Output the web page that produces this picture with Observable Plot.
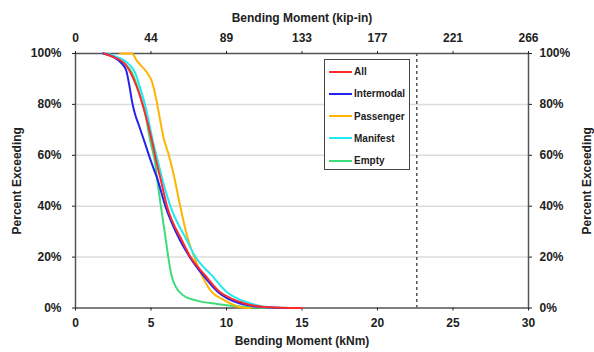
<!DOCTYPE html>
<html><head><meta charset="utf-8">
<script src="https://cdn.jsdelivr.net/npm/d3@7"></script>
<script src="https://cdn.jsdelivr.net/npm/@observablehq/plot@0.6"></script>
<style>
body{margin:0;background:#fff;}
#wrap{position:relative;width:594px;height:352px;font-family:"Liberation Sans",Arial,sans-serif;}
#legend{position:absolute;left:324px;top:59px;width:84px;height:109px;border:1.5px solid #444;background:#fff;}
.item{position:absolute;left:0;height:12px;display:flex;align-items:center;font-size:10px;font-weight:bold;color:#222;}
.item span.sw{display:inline-block;width:23px;height:2px;margin-left:4px;margin-right:2px;}
</style></head><body><div id="wrap"><div id="legend"></div></div>
<script>
// Data (kNm vs percent exceeding)
const seriesNames = ["All", "Intermodal", "Passenger", "Manifest", "Empty"];
const seriesColors = ["#ff2a2a", "#2323f0", "#ffb400", "#22e8f2", "#3ddc7a"];
const drawOrder = ["Empty", "Passenger", "Manifest", "Intermodal", "All"];

const allX = [1.9, 2.3, 3.29, 3.84, 4.2, 4.62, 5.06, 5.39, 5.61, 6.05, 7.05, 7.6, 8.59, 9.58, 10.36, 11.2, 12.2, 13.6, 15.0];
const allY = [100, 99.1, 95.8, 90, 84.5, 76.2, 65.7, 56.6, 51.3, 40.2, 26.5, 20.2, 12.8, 6.2, 3.6, 1.8, 0.6, 0.1, 0];

const intermodalX = [1.83, 2.52, 3.07, 3.35, 3.55, 3.75, 3.95, 4.17, 4.62, 5.06, 5.39, 5.94, 6.93, 7.55, 8.46, 9.45, 10.11, 10.9, 12.0, 12.9, 14.2];
const intermodalY = [100, 98.6, 96, 93.5, 88, 81, 76, 72.3, 64.4, 56.6, 51.3, 40.2, 26.5, 20.2, 12.8, 6.2, 3.6, 1.8, 0.6, 0.2, 0];

const passengerX = [2.96, 3.74, 4.07, 4.73, 5.06, 5.39, 5.61, 5.83, 6.16, 6.49, 6.93, 7.38, 7.85, 8.37, 9.03, 9.70, 10.25, 10.7, 11.2, 11.6];
const passengerY = [100, 100, 97.1, 92.5, 89, 80.8, 73.6, 67, 60.5, 52.7, 40.2, 28.5, 20.2, 12.8, 6.2, 3.6, 1.8, 0.6, 0.1, 0];

const manifestX = [2.08, 2.52, 3.40, 3.95, 4.28, 4.6, 5.17, 5.5, 5.72, 6.27, 7.38, 7.93, 9.03, 10.03, 10.77, 11.6, 12.4, 13.6, 15.0];
const manifestY = [100, 99.1, 96.5, 92.5, 86.5, 80, 64.4, 56.6, 51.3, 40.2, 26.5, 20.2, 12.8, 6.2, 3.6, 1.8, 0.6, 0.1, 0];

const emptyX = [1.85, 2.96, 3.74, 4.07, 4.62, 4.95, 5.28, 5.42, 5.65, 5.94, 6.14, 6.36, 6.60, 7.15, 8.04, 9.36, 10.9, 12.2, 13.6];
const emptyY = [100, 97.1, 92.5, 87.5, 76.2, 65.7, 56.6, 50, 40.2, 28.5, 20.2, 12.8, 8.8, 4.9, 2.9, 1.6, 0.6, 0.2, 0];

const xTicks = [0, 5, 10, 15, 20, 25, 30];
const yTicks = [0, 20, 40, 60, 80, 100];
const gridTicks = [20, 40, 60, 80];
const limitKNm = [22.6];
const kipInPerKNm = 8.8507;

const seriesXY = {
  All: [allX, allY], Intermodal: [intermodalX, intermodalY], Passenger: [passengerX, passengerY],
  Manifest: [manifestX, manifestY], Empty: [emptyX, emptyY]
};
const rows = [];
for (const name of drawOrder) {
  const [xs, ys] = seriesXY[name];
  xs.forEach((x, i) => rows.push({series: name, x, y: ys[i]}));
}

const chart = Plot.plot({
  width: 594, height: 352,
  marginLeft: 75, marginRight: 66, marginTop: 53, marginBottom: 44.5,
  style: {fontFamily: '"Liberation Sans", Arial, sans-serif', fontSize: "12px", fontWeight: "bold", color: "#222", background: "#fff"},
  x: {domain: [0, 30]},
  y: {domain: [0, 100]},
  color: {domain: seriesNames, range: seriesColors},
  marks: [
    Plot.gridY(gridTicks, {stroke: "#dcdcdc", strokeOpacity: 1, strokeWidth: 1.5}),
    Plot.frame({stroke: "#555", strokeWidth: 1.5}),
    Plot.axisY(yTicks, {anchor: "left", tickFormat: d => d + "%", tickSize: 3, tickPadding: 11, label: "Percent Exceeding", labelAnchor: "center", labelArrow: "none", labelOffset: 63}),
    Plot.axisY(yTicks, {anchor: "right", tickFormat: d => d + "%", tickSize: 3, tickPadding: 8, label: "Percent Exceeding", labelAnchor: "center", labelArrow: "none", labelOffset: 62}),
    Plot.axisX(xTicks, {anchor: "bottom", tickSize: 3, tickPadding: 7, label: "Bending Moment (kNm)", labelAnchor: "center", labelArrow: "none", labelOffset: 37}),
    Plot.axisX(xTicks, {anchor: "top", tickSize: 3, tickPadding: 9, tickFormat: d => Math.round(d * kipInPerKNm), label: "Bending Moment (kip-in)", labelAnchor: "center", labelArrow: "none", labelOffset: 40}),
    Plot.ruleX(limitKNm, {stroke: "#555", strokeWidth: 1.5, strokeDasharray: "3,3"}),
    Plot.line(rows, {x: "x", y: "y", z: "series", stroke: "series", strokeWidth: 2, curve: "monotone-x"})
  ]
});
document.getElementById("wrap").prepend(chart);

const legend = document.getElementById("legend");
seriesNames.forEach((name, i) => {
  const div = document.createElement("div");
  div.className = "item";
  div.style.top = (5.5 + i * 22.3) + "px";
  const sw = document.createElement("span");
  sw.className = "sw";
  sw.style.background = seriesColors[i];
  div.appendChild(sw);
  div.appendChild(document.createTextNode(name));
  legend.appendChild(div);
});
</script></body></html>
